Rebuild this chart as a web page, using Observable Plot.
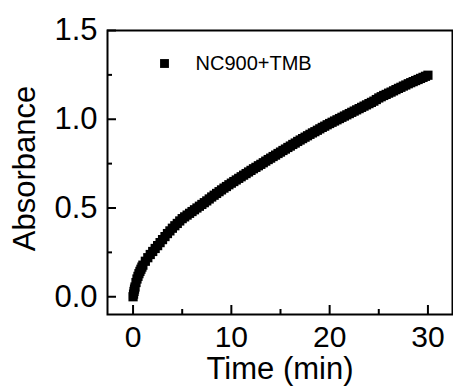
<!DOCTYPE html>
<html>
<head>
<meta charset="utf-8">
<script src="https://cdn.jsdelivr.net/npm/d3@7"></script>
<script src="https://cdn.jsdelivr.net/npm/@observablehq/plot@0.6"></script>
<style>
  html, body { margin: 0; padding: 0; background: #fff; }
  #chart { width: 453px; height: 392px; }
</style>
</head>
<body>
<div id="chart"></div>
<script>
const seriesName = "NC900+TMB";
const time = [0, 0.05, 0.1, 0.15, 0.2, 0.3, 0.4, 0.5, 0.6, 0.7, 0.8, 0.9, 1.0, 1.25, 1.5, 1.75,
  2.0, 2.25, 2.5, 2.75, 3.0, 3.25, 3.5, 3.75, 4.0, 4.25, 4.5, 4.75, 5.0, 5.25, 5.5, 5.75,
  6.0, 6.25, 6.5, 6.75, 7.0, 7.25, 7.5, 7.75, 8.0, 8.25, 8.5, 8.75, 9.0, 9.25, 9.5, 9.75,
  10.0, 10.25, 10.5, 10.75, 11.0, 11.25, 11.5, 11.75, 12.0, 12.25, 12.5, 12.75, 13.0, 13.25, 13.5, 13.75,
  14.0, 14.25, 14.5, 14.75, 15.0, 15.25, 15.5, 15.75, 16.0, 16.25, 16.5, 16.75, 17.0, 17.25, 17.5, 17.75,
  18.0, 18.25, 18.5, 18.75, 19.0, 19.25, 19.5, 19.75, 20.0, 20.25, 20.5, 20.75, 21.0, 21.25, 21.5, 21.75,
  22.0, 22.25, 22.5, 22.75, 23.0, 23.25, 23.5, 23.75, 24.0, 24.25, 24.5, 24.75, 25.0, 25.25, 25.5, 25.75,
  26.0, 26.25, 26.5, 26.75, 27.0, 27.25, 27.5, 27.75, 28.0, 28.25, 28.5, 28.75, 29.0, 29.25, 29.5, 29.75, 30.0];
const absorbance = [0.000, 0.015, 0.030, 0.043, 0.055, 0.080, 0.100, 0.115, 0.130, 0.143, 0.155, 0.167, 0.178, 0.200, 0.220, 0.238,
  0.255, 0.272, 0.288, 0.305, 0.322, 0.339, 0.356, 0.371, 0.386, 0.400, 0.413, 0.427, 0.440, 0.450, 0.460, 0.470,
  0.480, 0.490, 0.500, 0.510, 0.520, 0.530, 0.540, 0.551, 0.562, 0.572, 0.582, 0.592, 0.602, 0.612, 0.621, 0.631,
  0.640, 0.649, 0.658, 0.667, 0.676, 0.685, 0.694, 0.703, 0.712, 0.721, 0.729, 0.738, 0.746, 0.755, 0.764, 0.773,
  0.781, 0.790, 0.798, 0.807, 0.815, 0.824, 0.832, 0.841, 0.849, 0.858, 0.866, 0.875, 0.883, 0.891, 0.899, 0.907,
  0.915, 0.923, 0.930, 0.938, 0.946, 0.954, 0.961, 0.969, 0.976, 0.983, 0.990, 0.997, 1.004, 1.011, 1.018, 1.025,
  1.032, 1.039, 1.046, 1.053, 1.060, 1.067, 1.074, 1.081, 1.088, 1.095, 1.102, 1.111, 1.120, 1.127, 1.134, 1.140,
  1.147, 1.153, 1.160, 1.167, 1.174, 1.180, 1.187, 1.193, 1.200, 1.206, 1.212, 1.218, 1.224, 1.230, 1.236, 1.242, 1.248];
const xMajor = [0, 10, 20, 30];
const xMinor = [5, 15, 25];
const yMajor = [0.0, 0.5, 1.0, 1.5];
const yMinor = [0.25, 0.75, 1.25];

const data = time.map((t, i) => ({t, a: absorbance[i]}));
const font = "'Liberation Sans', Arial, sans-serif";

const W = 453, H = 392, ML = 107, MR = 1, MT = 30, MB = 78;
const frameW = W - ML - MR, frameH = H - MT - MB;
const major = 9, minor = 5;

const chart = Plot.plot({
  width: W,
  height: H,
  marginLeft: ML,
  marginRight: MR,
  marginTop: MT,
  marginBottom: MB,
  style: {fontFamily: font, fontSize: "31px", background: "#fff", color: "#000", overflow: "visible"},
  x: {domain: [-2.6, 32.5], axis: null},
  y: {domain: [-0.1, 1.5], axis: null},
  marks: [
    Plot.dot(data, {x: "t", y: "a", symbol: "square", r: 5.2, fill: "#000", stroke: "none"}),
    // inward ticks
    Plot.ruleX(xMajor, {x: d => d, insetTop: frameH - major, stroke: "#000", strokeWidth: 2}),
    Plot.ruleX(xMinor, {x: d => d, insetTop: frameH - minor, stroke: "#000", strokeWidth: 2}),
    Plot.ruleY(yMajor, {y: d => d, insetRight: frameW - major, stroke: "#000", strokeWidth: 2}),
    Plot.ruleY(yMinor, {y: d => d, insetRight: frameW - minor, stroke: "#000", strokeWidth: 2}),
    // tick labels
    Plot.axisX(xMajor, {anchor: "bottom", tickSize: 0, tickPadding: 11, fontSize: 30, tickFormat: d3.format("d"), label: null}),
    Plot.axisY(yMajor, {anchor: "left", tickSize: 0, tickPadding: 10, fontSize: 31, tickFormat: d3.format(".1f"), label: null}),
    Plot.frame({stroke: "#000", strokeWidth: 2}),
    // axis titles
    Plot.text(["Time (min)"], {frameAnchor: "bottom", textAnchor: "middle", dy: 55, fontSize: 31, fill: "#000", lineAnchor: "middle"}),
    Plot.text(["Absorbance"], {frameAnchor: "left", textAnchor: "middle", dx: -82, dy: -4, rotate: -90, fontSize: 31, fill: "#000", lineAnchor: "middle"}),
    // legend
    Plot.dot([seriesName], {frameAnchor: "top-left", dx: 57, dy: 33, symbol: "square", r: 5, fill: "#000", stroke: "none"}),
    Plot.text([seriesName], {frameAnchor: "top-left", dx: 88, dy: 33, textAnchor: "start", lineAnchor: "middle", fontSize: 20, fill: "#000"})
  ]
});
document.getElementById("chart").append(chart);
</script>
</body>
</html>
